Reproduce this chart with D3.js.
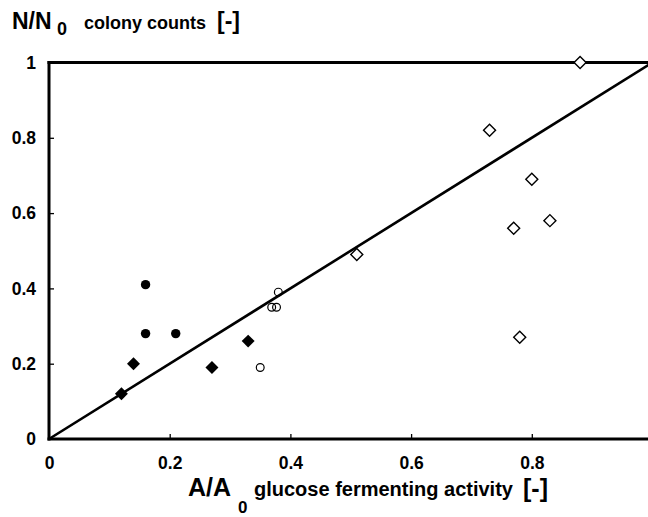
<!DOCTYPE html>
<html>
<head>
<meta charset="utf-8">
<script src="https://cdn.jsdelivr.net/npm/d3@7"></script>
<style>
  html, body { margin: 0; padding: 0; background: #fff; }
  svg { display: block; }
  text { font-family: "Liberation Sans", Arial, sans-serif; fill: #000; font-weight: bold; }
</style>
</head>
<body>
<svg id="chart" width="648" height="517"></svg>
<script>
// Survival (colony counts) versus glucose fermenting activity, both relative to t = 0
const filledCircles  = [[0.16, 0.41], [0.16, 0.28], [0.21, 0.28]];
const filledDiamonds = [[0.12, 0.12], [0.14, 0.20], [0.27, 0.19], [0.33, 0.26]];
const openCircles    = [[0.38, 0.39], [0.369, 0.35], [0.377, 0.35], [0.35, 0.19]];
const openDiamonds   = [[0.51, 0.49], [0.73, 0.82], [0.77, 0.56], [0.78, 0.27],
                        [0.80, 0.69], [0.83, 0.58], [0.88, 1.00]];
const identityLine   = [[0, 0], [1, 1]];
const xTicks = [0, 0.2, 0.4, 0.6, 0.8, 1];
const yTicks = [0, 0.2, 0.4, 0.6, 0.8, 1];

const svg = d3.select("#chart");
const x = d3.scaleLinear().domain([0, 1]).range([49, 652.5]);
const y = d3.scaleLinear().domain([0, 1]).range([439, 62.5]);
const fmt = d => d === 0 || d === 1 ? String(d) : d3.format(".1f")(d);

// x axis (ticks point into the plot)
const gx = svg.append("g")
  .attr("transform", `translate(0,${y(0)})`)
  .call(d3.axisBottom(x).tickValues(xTicks).tickFormat(fmt)
        .tickSizeInner(-5).tickSizeOuter(0).tickPadding(18));
// y axis
const gy = svg.append("g")
  .attr("transform", `translate(${x(0)},0)`)
  .call(d3.axisLeft(y).tickValues(yTicks).tickFormat(fmt)
        .tickSizeInner(-5).tickSizeOuter(0).tickPadding(13));

[gx, gy].forEach(g => {
  g.select(".domain").attr("stroke", "#000").attr("stroke-width", 3);
  g.selectAll(".tick line").attr("stroke", "#000").attr("stroke-width", 1.3);
  g.selectAll(".tick text").attr("font-size", 17.5).attr("font-weight", "bold")
    .attr("font-family", "Liberation Sans, Arial, sans-serif").attr("fill", "#000");
});
gx.selectAll(".tick").filter(d => d === 0 || d === 1).select("line").remove();
gy.selectAll(".tick").filter(d => d === 0 || d === 1).select("line").remove();
// extend domain lines to the corner
gx.select(".domain").attr("d", `M${x(0) - 1.5},0H${x(1)}`);
gy.select(".domain").attr("d", `M0,${y(0) + 1.5}V${y(1) - 1.5}`);

// top frame line
svg.append("line")
  .attr("x1", x(0) - 1.5).attr("x2", x(1))
  .attr("y1", y(1)).attr("y2", y(1))
  .attr("stroke", "#000").attr("stroke-width", 3);

// 1:1 line
svg.append("path")
  .datum(identityLine)
  .attr("d", d3.line().x(d => x(d[0])).y(d => y(d[1])))
  .attr("fill", "none").attr("stroke", "#000").attr("stroke-width", 2.6);

const diamond = d3.symbol().type(d3.symbolSquare);

// filled circles
svg.append("g").selectAll("circle").data(filledCircles).join("circle")
  .attr("cx", d => x(d[0])).attr("cy", d => y(d[1])).attr("r", 4.7)
  .attr("fill", "#000");

// filled diamonds
svg.append("g").selectAll("path").data(filledDiamonds).join("path")
  .attr("d", diamond.size(84))
  .attr("transform", d => `translate(${x(d[0])},${y(d[1])}) rotate(45)`)
  .attr("fill", "#000");

// open circles
svg.append("g").selectAll("circle").data(openCircles).join("circle")
  .attr("cx", d => x(d[0])).attr("cy", d => y(d[1])).attr("r", 3.9)
  .attr("fill", "none").attr("stroke", "#000").attr("stroke-width", 1.2);

// open diamonds
svg.append("g").selectAll("path").data(openDiamonds).join("path")
  .attr("d", diamond.size(72))
  .attr("transform", d => `translate(${x(d[0])},${y(d[1])}) rotate(45)`)
  .attr("fill", "#fff").attr("stroke", "#000").attr("stroke-width", 1.4);

// y axis title
const ty = svg.append("text");
ty.append("tspan").attr("x", 12).attr("y", 29).attr("font-size", 23).text("N/N");
ty.append("tspan").attr("x", 57).attr("y", 35).attr("font-size", 18).text("0");
ty.append("tspan").attr("x", 84).attr("y", 29).attr("font-size", 18).text("colony counts");
ty.append("tspan").attr("x", 217).attr("y", 29).attr("font-size", 23).text("[-]");

// x axis title
const tx = svg.append("text");
tx.append("tspan").attr("x", 188).attr("y", 496).attr("font-size", 25).text("A/A");
tx.append("tspan").attr("x", 238).attr("y", 513).attr("font-size", 17).text("0");
tx.append("tspan").attr("x", 254).attr("y", 496).attr("font-size", 20).text("glucose fermenting activity");
tx.append("tspan").attr("x", 523).attr("y", 497).attr("font-size", 25).text("[-]");
</script>
</body>
</html>
